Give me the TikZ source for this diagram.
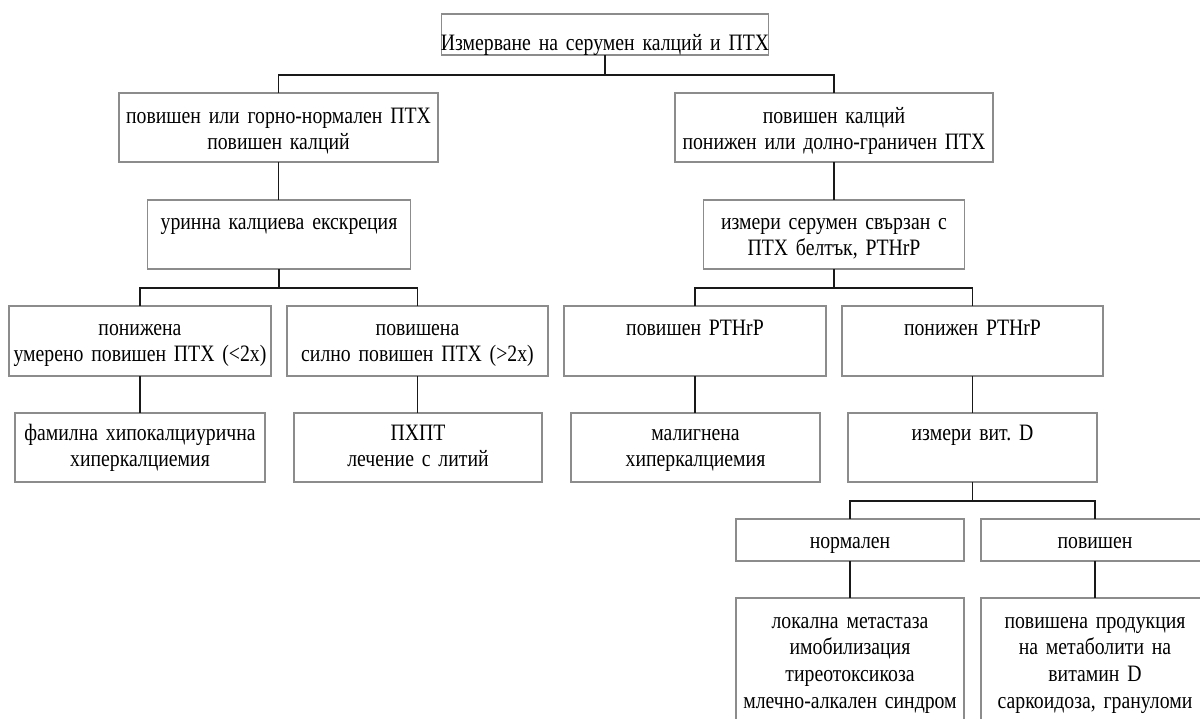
\documentclass[tikz,border=0pt]{standalone}
\usepackage{fontspec}
\setmainfont{Liberation Serif}[FakeStretch=0.84]
\usetikzlibrary{calc}
\frenchspacing
\definecolor{boxgray}{RGB}{140,140,140}
\definecolor{linkblack}{RGB}{25,25,25}
\tikzset{
  box/.style={draw=boxgray, line width=1.4pt, anchor=north, inner sep=0pt, outer sep=0pt},
  txt/.style={anchor=base, align=center, text width=400pt, inner sep=0pt, outer sep=0pt,
              font=\fontsize{23.5}{26.7}\selectfont\frenchspacing},
  link/.style={draw=linkblack, line width=1.6pt}
}
% name, cx, top, width, height, baseline offset, text
\newcommand\mybox[7]{%
  \node[box, minimum width={(#4)*1pt}, minimum height={(#5)*1pt}] (#1) at (#2,#3) {};
  \node[txt] (#1t) at ($(#1.north)+(0,#6)$) {#7};
}
\begin{document}
\begin{tikzpicture}[x=1pt,y=-1pt]
\useasboundingbox (0,0) rectangle (1200,718);
\mybox{top}{605}{14}{327}{41}{36}{Измерване на серумен калций и ПТХ}
\mybox{la}{278.5}{93}{319}{69}{30}{повишен или горно-нормален ПТХ\\повишен калций}
\mybox{lb}{834}{93}{318}{69}{30}{повишен калций\\понижен или долно-граничен ПТХ}
\mybox{ma}{279}{200}{263}{69}{29}{уринна калциева екскреция}
\mybox{mb}{834}{200}{261}{69}{29}{измери серумен свързан с\\ПТХ белтък, PTHrP}
\mybox{na}{140}{306}{262}{70}{29}{понижена\\умерено повишен ПТХ (<2x)}
\mybox{nb}{417.5}{306}{261}{70}{29}{повишена\\силно повишен ПТХ (>2x)}
\mybox{nc}{695}{306}{262}{70}{29}{повишен PTHrP}
\mybox{nd}{972.5}{306}{261}{70}{29}{понижен PTHrP}
\mybox{pa}{140}{413}{250}{69}{27}{фамилна хипокалциурична\\хиперкалциемия}
\mybox{pb}{418}{413}{248}{69}{27}{ПХПТ\\лечение с литий}
\mybox{pc}{695.5}{413}{249}{69}{27}{малигнена\\хиперкалциемия}
\mybox{pd}{972.5}{413}{249}{69}{27}{измери вит. D}
\mybox{qa}{850}{519}{228}{42}{29}{нормален}
\mybox{qb}{1095}{519}{228}{42}{29}{повишен}
\mybox{ra}{850}{598}{228}{140}{30}{локална метастаза\\имобилизация\\тиреотоксикоза\\млечно-алкален синдром}
\mybox{rb}{1095}{598}{228}{140}{30}{повишена продукция\\на метаболити на\\витамин D\\саркоидоза, грануломи}
% connectors
\draw[link] (top.south) -- ++(0,20) coordinate (j1);
\draw[link] (la.north) |- (j1) -| (lb.north);
\draw[link] (la.south) -- (la.south |- ma.north);
\draw[link] (lb.south) -- (mb.north);
\draw[link] (ma.south) -- ++(0,19) coordinate (j2);
\draw[link] (na.north) |- (j2) -| (nb.north);
\draw[link] (mb.south) -- ++(0,19) coordinate (j3);
\draw[link] (nc.north) |- (j3) -| (nd.north);
\draw[link] (na.south) -- (pa.north);
\draw[link] (nb.south) -- (nb.south |- pb.north);
\draw[link] (nc.south) -- (nc.south |- pc.north);
\draw[link] (nd.south) -- (pd.north);
\draw[link] (pd.south) -- ++(0,19) coordinate (j4);
\draw[link] (qa.north) |- (j4) -| (qb.north);
\draw[link] (qa.south) -- (ra.north);
\draw[link] (qb.south) -- (rb.north);
\end{tikzpicture}
\end{document}
